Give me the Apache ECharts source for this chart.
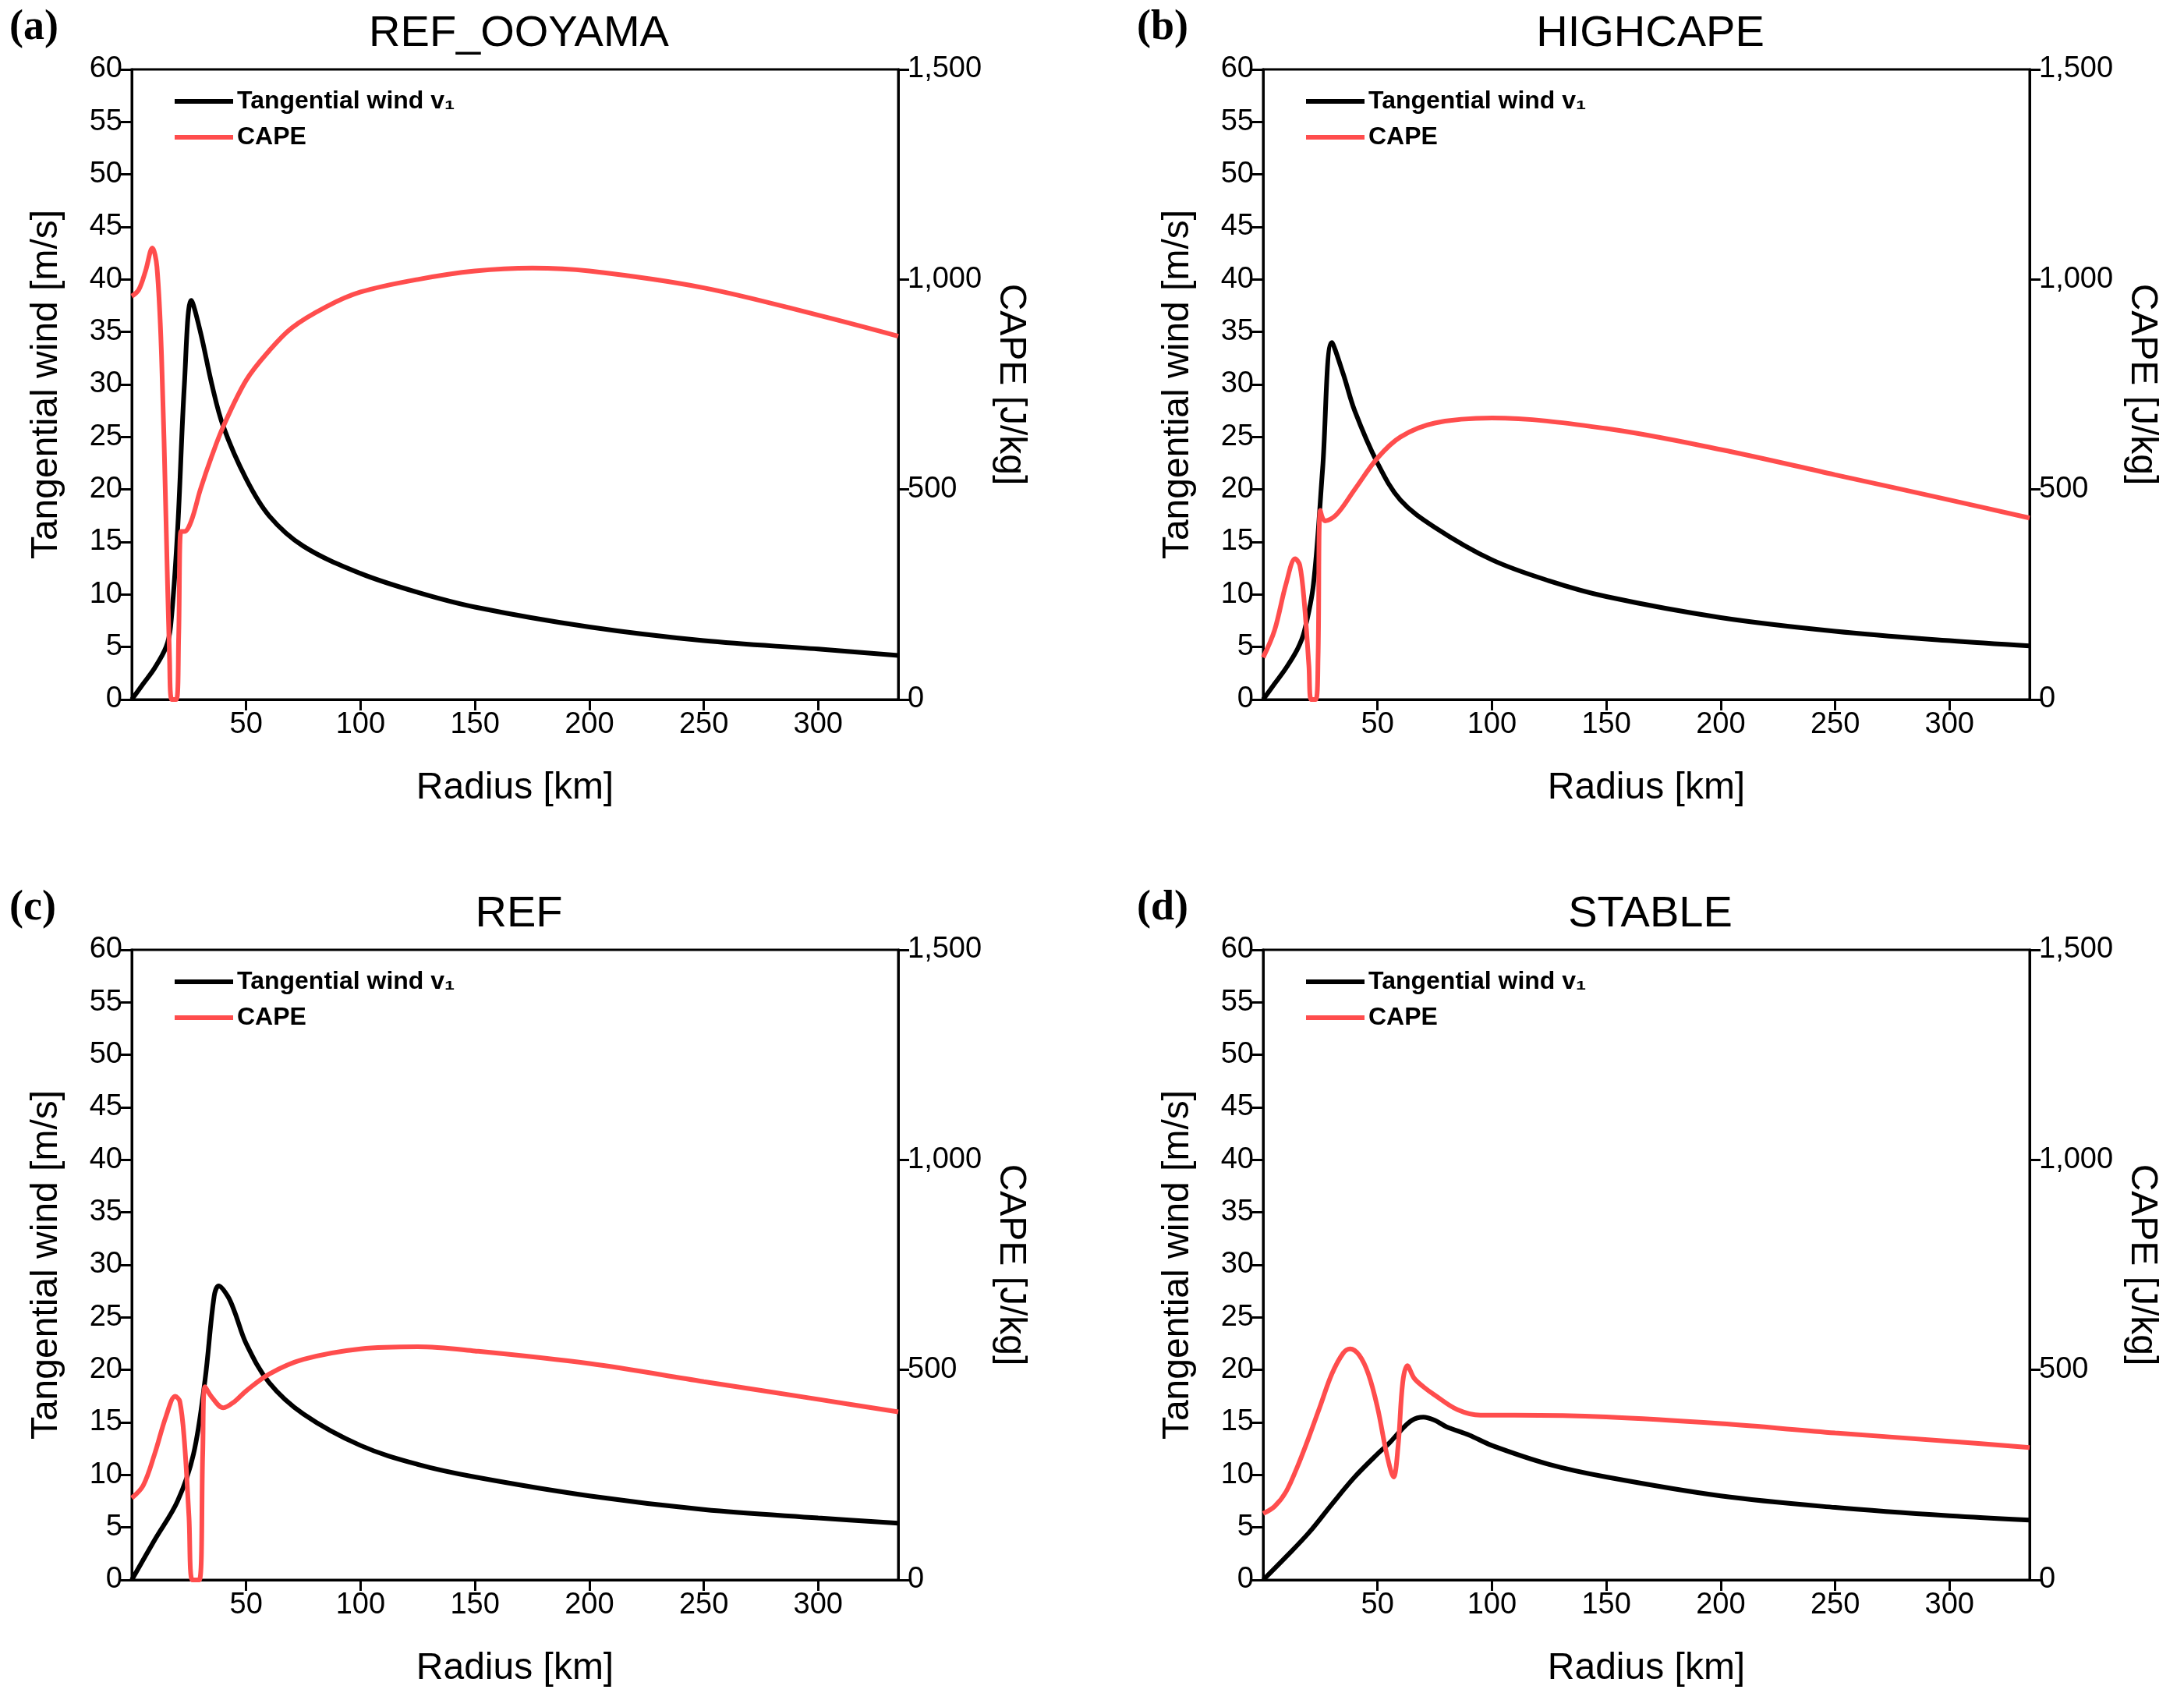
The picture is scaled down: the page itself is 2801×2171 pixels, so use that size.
<!DOCTYPE html>
<html>
<head>
<meta charset="utf-8">
<title>Tangential wind and CAPE</title>
<script src="https://cdn.jsdelivr.net/npm/echarts@6/dist/echarts.min.js"></script>
</head>
<body style="margin:0;background:#fff">
<div id="main" style="width:2801px;height:2171px;"></div>
<script type="text/javascript">
// radius [km] / tangential wind [m/s] / CAPE [J/kg]
var titles = ['REF_OOYAMA', 'HIGHCAPE', 'REF', 'STABLE'];
var tags = ['(a)', '(b)', '(c)', '(d)'];

var windR_a = [0, 5, 10, 15, 17, 20, 23, 26, 30, 35, 40, 50, 60, 75, 100, 125, 150, 200, 250, 300, 335];
var wind_a  = [0, 1.5, 3, 5, 7, 16, 30, 38, 35, 30, 26, 21, 17.5, 14.6, 12, 10.2, 8.8, 6.9, 5.6, 4.8, 4.2];
var capeR_a = [0, 3, 6, 9, 11, 13, 15, 16.5, 17.5, 19.5, 20.5, 21.5, 23, 26, 30, 35, 40, 50, 60, 70, 85, 100, 125, 150, 175, 200, 250, 300, 335];
var cape_a  = [960, 975, 1020, 1075, 1030, 820, 420, 100, 0, 0, 150, 400, 400, 425, 500, 580, 650, 760, 830, 885, 935, 970, 1000, 1020, 1027, 1020, 980, 915, 865];

var windR_b = [0, 5, 10, 15, 18, 22, 26, 30, 35, 40, 50, 60, 75, 100, 125, 150, 200, 250, 300, 335];
var wind_b  = [0, 1.5, 3, 4.8, 6.5, 11, 22, 34, 31, 27.5, 22.5, 19, 16.4, 13.3, 11.3, 9.8, 7.8, 6.5, 5.6, 5.1];
var capeR_b = [0, 5, 10, 14, 16, 18, 20, 21, 23, 24, 25, 27, 32, 40, 50, 60, 75, 100, 150, 200, 250, 300, 335];
var cape_b  = [100, 165, 275, 335, 320, 230, 80, 0, 0, 100, 450, 425, 440, 500, 575, 625, 658, 670, 645, 595, 535, 475, 432];

var windR_c = [0, 10, 20, 27, 32, 36, 38, 42, 45, 50, 60, 75, 100, 125, 150, 200, 250, 300, 335];
var wind_c  = [0, 3.8, 7.5, 12, 19, 27, 28, 27, 25.5, 22.5, 18.8, 15.8, 12.8, 11, 9.8, 8, 6.7, 5.9, 5.4];
var capeR_c = [0, 5, 10, 15, 19, 21, 23, 25, 26.5, 29.5, 31, 32, 35, 40, 45, 50, 60, 75, 100, 125, 150, 200, 250, 300, 335];
var cape_c  = [195, 225, 300, 390, 437, 425, 330, 150, 0, 0, 300, 460, 435, 410, 425, 450, 490, 525, 550, 555, 545, 515, 472, 430, 400];

var windR_d = [0, 10, 20, 30, 40, 50, 55, 60, 65, 70, 75, 80, 90, 100, 125, 150, 200, 250, 300, 335];
var wind_d  = [0, 2.2, 4.5, 7.2, 9.8, 12, 13, 14.2, 15.2, 15.5, 15.2, 14.6, 13.8, 12.8, 11, 9.8, 8, 6.9, 6.1, 5.7];
var capeR_d = [0, 5, 10, 15, 20, 25, 30, 35, 38, 42, 46, 50, 54, 57, 59, 61, 63, 66, 70, 75, 85, 95, 110, 150, 200, 250, 300, 335];
var cape_d  = [158, 175, 210, 270, 340, 415, 490, 540, 550, 535, 490, 410, 300, 245, 320, 470, 510, 480, 460, 440, 405, 392, 392, 388, 372, 350, 330, 315];

var windR = [windR_a, windR_b, windR_c, windR_d];
var wind = [wind_a, wind_b, wind_c, wind_d];
var capeR = [capeR_a, capeR_b, capeR_c, capeR_d];
var cape = [cape_a, cape_b, cape_c, cape_d];

var xTicks = [0, 335, 50];      // min, max, interval
var windTicks = [0, 60, 5];
var capeTicks = [0, 1500, 500];

function pairs(xs, ys) {
    return xs.map(function (x, i) { return [x, ys[i]]; });
}

var myChart = echarts.init(document.getElementById('main'));
var font = 'Liberation Sans';
var lefts = [169, 1620, 169, 1620];
var tops = [89, 89, 1218, 1218];
var W = 983, H = 808;

var option = {
    backgroundColor: '#fff',
    textStyle: { fontFamily: font, color: '#000' },
    title: [], grid: [], xAxis: [], yAxis: [], series: [], legend: [], graphic: []
};

for (var p = 0; p < 4; p++) {
    option.grid.push({ left: lefts[p], top: tops[p], width: W, height: H, show: true, borderColor: '#000', borderWidth: 3, backgroundColor: 'transparent' });
    option.title.push({ text: titles[p], left: lefts[p] + W / 2, top: tops[p] - 78, textAlign: 'center',
        textStyle: { fontFamily: font, fontSize: 56, fontWeight: 'normal', color: '#000' } });
    option.graphic.push({ type: 'text', left: 12, top: tops[p] - 80, style: { text: tags[p], font: 'bold 54px "Liberation Serif"', fill: '#000' } });
    if (p % 2 == 1) option.graphic[p].left = lefts[p] - 162;

    option.xAxis.push({
        type: 'value', gridIndex: p, min: xTicks[0], max: xTicks[1], interval: xTicks[2],
        name: 'Radius [km]', nameLocation: 'middle', nameGap: 90,
        nameTextStyle: { fontSize: 48, color: '#000' },
        axisLine: { lineStyle: { color: '#000', width: 3 } },
        axisTick: { length: 14, lineStyle: { width: 3, color: '#000' } },
        axisLabel: { fontSize: 38, color: '#000', margin: 14, showMinLabel: false, showMaxLabel: false },
        splitLine: { show: false }
    });
    option.yAxis.push({
        type: 'value', gridIndex: p, min: windTicks[0], max: windTicks[1], interval: windTicks[2],
        name: 'Tangential wind [m/s]', nameLocation: 'middle', nameGap: 85, nameRotate: 90,
        nameTextStyle: { fontSize: 48, color: '#000' },
        axisLine: { lineStyle: { color: '#000', width: 3 } },
        axisTick: { length: 14, lineStyle: { width: 3, color: '#000' } },
        axisLabel: { fontSize: 38, color: '#000', margin: 12 },
        splitLine: { show: false }
    });
    option.yAxis.push({
        type: 'value', gridIndex: p, position: 'right', min: capeTicks[0], max: capeTicks[1], interval: capeTicks[2],
        name: 'CAPE [J/kg]', nameLocation: 'middle', nameGap: 120, nameRotate: -90,
        nameTextStyle: { fontSize: 48, color: '#000' },
        axisLine: { lineStyle: { color: '#000', width: 3 } },
        axisTick: { length: 14, lineStyle: { width: 3, color: '#000' } },
        axisLabel: { fontSize: 38, color: '#000', margin: 12 },
        splitLine: { show: false }
    });
    option.series.push({
        name: 'Tangential wind v\u2081', type: 'line', xAxisIndex: p, yAxisIndex: 2 * p,
        data: pairs(windR[p], wind[p]), smooth: 0.35, showSymbol: false, z: 3,
        lineStyle: { color: '#000', width: 6 }, itemStyle: { color: '#000' }
    });
    option.series.push({
        name: 'CAPE', type: 'line', xAxisIndex: p, yAxisIndex: 2 * p + 1,
        data: pairs(capeR[p], cape[p]), smooth: 0.35, showSymbol: false, z: 4,
        lineStyle: { color: '#ff4d4d', width: 6 }, itemStyle: { color: '#ff4d4d' }
    });
    option.legend.push({
        left: lefts[p] + 50, top: tops[p] + 20, orient: 'vertical', itemGap: 14,
        itemWidth: 75, itemHeight: 6, icon: 'rect',
        data: ['Tangential wind v\u2081', 'CAPE'],
        textStyle: { fontSize: 32, fontWeight: 'bold', color: '#000', fontFamily: font }
    });
}

myChart.setOption(option);
</script>
</body>
</html>
